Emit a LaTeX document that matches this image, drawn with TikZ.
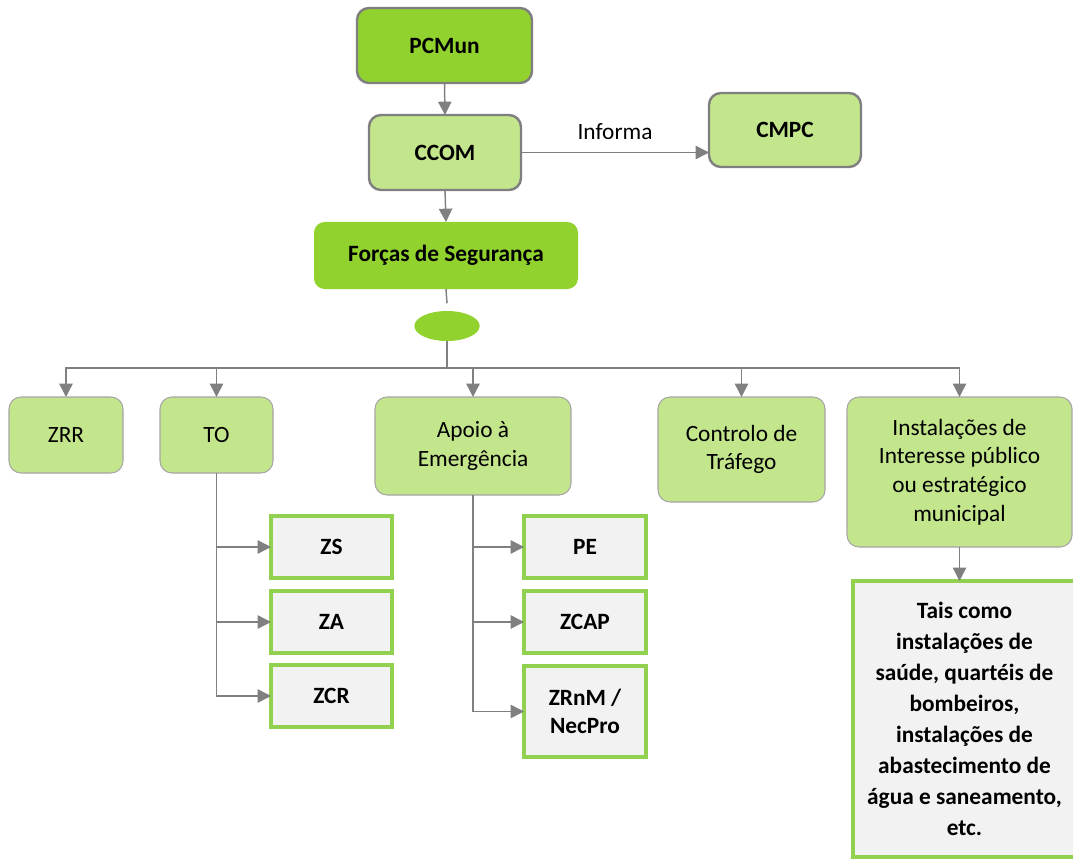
\documentclass[tikz,border=0pt]{standalone}
\usepackage{fontspec}
\setmainfont{Carlito}
\usetikzlibrary{arrows.meta,shapes.geometric,calc}
\definecolor{dkgreen}{HTML}{92D22E}
\definecolor{ltgreen}{HTML}{C3E58C}
\definecolor{bordgray}{HTML}{7F7F7F}
\definecolor{thingray}{HTML}{A6A6A6}
\definecolor{rectgreen}{HTML}{92D050}
\definecolor{rectfill}{HTML}{F2F2F2}
\definecolor{linegray}{HTML}{808080}
\begin{document}
\begin{tikzpicture}[x=0.75pt,y=-0.75pt,
  txt/.style={font=\fontsize{17.5}{21.5}\selectfont, align=center},
  base/.style={txt, rectangle, rounded corners=9pt, inner sep=0pt, outer sep=0pt},
  topbox/.style={base, fill=dkgreen, draw=bordgray, line width=1.8pt, font=\fontsize{17.5}{21.5}\selectfont\bfseries},
  midbox/.style={base, fill=ltgreen, draw=bordgray, line width=1.8pt, font=\fontsize{17.5}{21.5}\selectfont\bfseries},
  forcebox/.style={base, fill=dkgreen, rounded corners=8pt, font=\fontsize{17.5}{21.5}\selectfont\bfseries},
  lightbox/.style={base, fill=ltgreen, draw=thingray, line width=0.8pt},
  zonebox/.style={txt, rectangle, inner sep=0pt, outer sep=0pt, fill=rectfill, draw=rectgreen, line width=2.3pt, font=\fontsize{17.5}{21.5}\selectfont\bfseries},
  infobox/.style={zonebox, font=\fontsize{17.5}{23.2}\selectfont\bfseries},
  conn/.style={draw=linegray, line width=1.1pt},
  arr/.style={conn, -{Triangle[length=10pt,width=10pt]}},
]
\useasboundingbox (0,0) rectangle (1073,859);

% top level
\node[topbox, minimum width=131.25pt, minimum height=56.25pt] (pcmun) at (444.5,45.5) {PCMun};
\node[midbox, minimum width=114pt, minimum height=56.25pt] (ccom) at (445,152.5) {CCOM};
\node[midbox, minimum width=114pt, minimum height=55.5pt] (cmpc) at (785,130) {CMPC};
\node[forcebox, minimum width=198pt, minimum height=50.25pt] (forcas) at (446,255.5) {Forças de Segurança};
\node[ellipse, fill=dkgreen, inner sep=0pt, minimum width=49pt, minimum height=22.5pt] (ell) at (447,326) {};

% second level
\node[lightbox, minimum width=85.5pt, minimum height=57pt] (zrr) at (66,435) {ZRR};
\node[lightbox, minimum width=84.75pt, minimum height=57pt] (to) at (216.5,435) {TO};
\node[lightbox, minimum width=147pt, minimum height=73.5pt] (apoio) at (473,446) {Apoio à\\Emergência};
\node[lightbox, minimum width=125.25pt, minimum height=78.75pt] (trafego) at (741.5,449.5) {Controlo de\\Tráfego};
\node[lightbox, minimum width=168.75pt, minimum height=112.5pt] (inst) at (959.5,472) {Instalações de\\Interesse público\\ou estratégico\\municipal};

% zones
\node[zonebox, minimum width=90.75pt, minimum height=46.5pt] (zs) at (331.5,547) {ZS};
\node[zonebox, minimum width=90.75pt, minimum height=46.5pt] (za) at (331.5,622) {ZA};
\node[zonebox, minimum width=90.75pt, minimum height=46.5pt] (zcr) at (331.5,696) {ZCR};
\node[zonebox, minimum width=91.5pt, minimum height=46.5pt] (pe) at (585,547) {PE};
\node[zonebox, minimum width=91.5pt, minimum height=46.5pt] (zcap) at (585,622) {ZCAP};
\node[zonebox, minimum width=91.5pt, minimum height=68.25pt] (zrnm) at (585,711.5) {ZRnM /\\NecPro};
\node[infobox, minimum width=167.25pt, minimum height=207pt] (tais) at (964.5,719) {Tais como\\instalações de\\saúde, quartéis de\\bombeiros,\\instalações de\\abastecimento de\\água e saneamento,\\etc.};

% connectors
\draw[arr] (pcmun.south) -- (ccom.north);
\draw[arr] (ccom.east) -- (ccom.east -| cmpc.west)
  node[txt, midway, above=6pt] (informa) {Informa};
\draw[arr] (ccom.south) -- (forcas.north);
\draw[conn] (forcas.south) -- ([yshift=5.5pt]ell.north);
\coordinate (bus) at (447,368);
\draw[conn] (ell.south) -- (bus);
\draw[arr] (bus) -| (zrr.north);
\draw[arr] (bus) -| (to.north);
\draw[arr] (bus) -| (apoio.north);
\draw[arr] (bus) -| (trafego.north);
\draw[arr] (bus) -| (inst.north);

\draw[arr] (to.south) |- (zs.west);
\draw[arr] (to.south) |- (za.west);
\draw[arr] (to.south) |- (zcr.west);
\draw[arr] (apoio.south) |- (pe.west);
\draw[arr] (apoio.south) |- (zcap.west);
\draw[arr] (apoio.south) |- (zrnm.west);
\draw[arr] (inst.south) -- (inst.south |- tais.north);
\end{tikzpicture}
\end{document}
